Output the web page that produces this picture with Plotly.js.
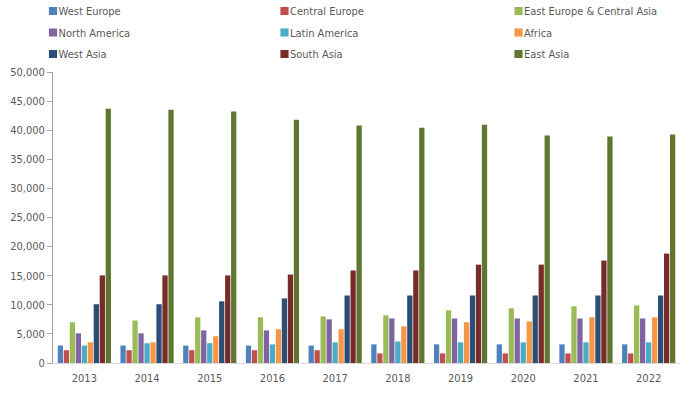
<!DOCTYPE html>
<html>
<head>
<meta charset="utf-8">
<script src="https://cdn.plot.ly/plotly-3.0.1.min.js"></script>
<style>html,body{margin:0;padding:0;background:#fff;}#chart{width:694px;height:394px;}</style>
</head>
<body>
<div id="chart"></div>
<script>
var years = ['2013','2014','2015','2016','2017','2018','2019','2020','2021','2022'];
var seriesNames = ['West Europe','Central Europe','East Europe & Central Asia','North America','Latin America','Africa','West Asia','South Asia','East Asia'];
var westEurope    = [3000,3000,3000,3000,3000,3200,3200,3200,3200,3200];
var centralEurope = [2200,2200,2200,2200,2200,1650,1650,1650,1650,1650];
var eastEurope    = [7000,7300,7850,7850,8000,8200,9050,9400,9750,9900];
var northAmerica  = [5100,5100,5600,5600,7500,7650,7650,7650,7650,7650];
var latinAmerica  = [3000,3400,3400,3200,3550,3700,3550,3550,3550,3550];
var africa        = [3550,3550,4600,5800,5800,6300,7000,7150,7850,7850];
var westAsia      = [10100,10100,10600,11100,11600,11600,11600,11600,11600,11600];
var southAsia     = [15050,15050,15050,15200,15900,15900,16900,16900,17600,18800];
var eastAsia      = [43700,43500,43200,41800,40800,40400,40950,39100,38900,39250];
var seriesValues = [westEurope,centralEurope,eastEurope,northAmerica,latinAmerica,africa,westAsia,southAsia,eastAsia];
var colors = ['#4F81BD','#C0504D','#9BBB59','#8064A2','#4BACC6','#F79646','#2C4D75','#772C2A','#5F7530'];

var FONT = '"DejaVu Sans Condensed", "DejaVu Sans", sans-serif';
var W = 694, H = 394;
// legend grid: 3 columns x 3 rows (text start x, row centre y in px)
var legendColX = [18.5, 250, 484];
var legendRowY = [11, 32.5, 54];

var traces = seriesNames.map(function(name, i){
  return {
    type: 'bar', name: name, x: years, y: seriesValues[i],
    marker: {color: colors[i], line: {width: 0}},
    legend: i === 0 ? 'legend' : 'legend' + (i + 1),
    hoverinfo: 'skip'
  };
});

var layout = {
  width: W, height: H,
  margin: {l: 53, r: 14, t: 72, b: 31, pad: 0},
  paper_bgcolor: '#ffffff', plot_bgcolor: '#ffffff',
  font: {family: FONT, size: 11, color: '#595959'},
  barmode: 'group', bargap: 0.14, bargroupgap: 0.12,
  showlegend: true,
  xaxis: {
    type: 'category', showline: true, linecolor: '#d9d9d9', linewidth: 1,
    ticks: '', showgrid: false, zeroline: false, ticklabelstandoff: 5,
    tickfont: {family: FONT, size: 11, color: '#595959'}
  },
  yaxis: {
    range: [0, 50000], dtick: 5000, tickformat: ',d',
    showline: true, linecolor: '#a6a6a6', linewidth: 1,
    ticks: 'outside', ticklen: 5, tickcolor: '#a6a6a6',
    showgrid: false, zeroline: false,
    tickfont: {family: FONT, size: 11, color: '#595959'}
  }
};

seriesNames.forEach(function(name, i){
  var key = i === 0 ? 'legend' : 'legend' + (i + 1);
  layout[key] = {
    orientation: 'h', xref: 'container', yref: 'container',
    x: legendColX[i % 3] / W, xanchor: 'left',
    y: 1 - legendRowY[Math.floor(i / 3)] / H, yanchor: 'middle',
    font: {family: FONT, size: 11, color: '#595959'},
    bgcolor: 'rgba(0,0,0,0)', borderwidth: 0,
    itemclick: false, itemdoubleclick: false
  };
});

Plotly.newPlot('chart', traces, layout, {displayModeBar: false, staticPlot: true}).then(function(){
  document.querySelectorAll('.legendpoints path').forEach(function(p){
    p.setAttribute('transform', 'translate(34.5,0) scale(0.68)');
  });
});
</script>
</body>
</html>
